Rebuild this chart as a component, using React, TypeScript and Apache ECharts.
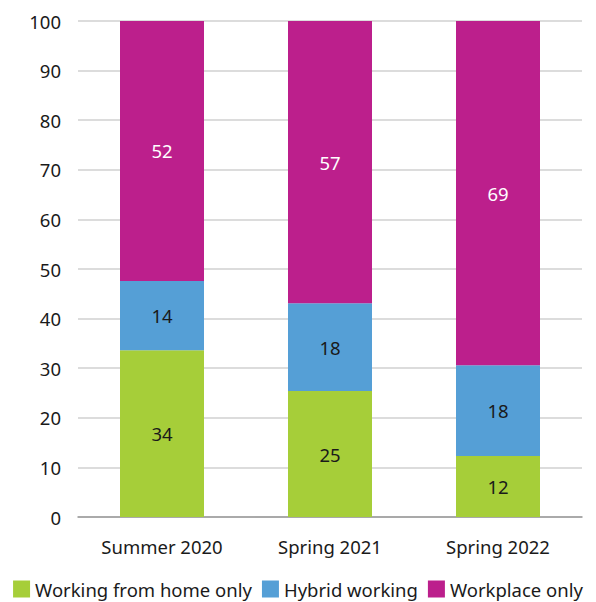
import React, { useEffect, useRef } from "react";
import * as echarts from "echarts";

const categories = ["Summer 2020", "Spring 2021", "Spring 2022"];
const homeOnly = [33.6, 25.4, 12.3];
const hybrid = [14.0, 17.7, 18.3];
const workplace = [52.4, 56.9, 69.4];
const seriesNames = ["Working from home only", "Hybrid working", "Workplace only"];
const colors = ["#a6ce39", "#559fd6", "#bc1f8c"];

const FONT = "'Source Sans Pro', 'Noto Sans', 'Open Sans', sans-serif";

export default function App() {
  const ref = useRef<HTMLDivElement>(null);
  useEffect(() => {
    if (!ref.current) return;
    const chart = echarts.init(ref.current, null, { renderer: "svg" });
    const data = [homeOnly, hybrid, workplace];
    chart.setOption({
      animation: false,
      textStyle: { fontFamily: FONT },
      grid: { left: 70, right: 6, top: 13, bottom: 85, containLabel: false },
      legend: {
        top: 571,
        left: "center",
        padding: 0,
        itemWidth: 17,
        itemHeight: 17,
        itemGap: 10,
        icon: "rect",
        textStyle: { fontSize: 18.5, lineHeight: 20, color: "#1a1a1a", fontFamily: FONT },
        data: seriesNames,
      },
      xAxis: {
        type: "category",
        data: categories,
        axisTick: { show: false },
        axisLine: { lineStyle: { color: "#999", width: 1.5 } },
        axisLabel: { fontSize: 18.5, color: "#1a1a1a", margin: 20 },
      },
      yAxis: {
        type: "value",
        min: 0,
        max: 100,
        interval: 10,
        axisLabel: { fontSize: 18.5, color: "#1a1a1a", margin: 17 },
        splitLine: { lineStyle: { color: "#d0d0d0", width: 1.5 } },
      },
      series: seriesNames.map((name, i) => ({
        name,
        type: "bar",
        stack: "total",
        barWidth: "50%",
        data: data[i],
        itemStyle: { color: colors[i] },
        label: {
          show: true,
          position: "inside",
          fontSize: 18.5,
          color: i === 2 ? "#ffffff" : "#1a1a1a",
          formatter: (p: any) => String(Math.round(p.value)),
        },
      })),
    });
    return () => chart.dispose();
  }, []);
  return <div ref={ref} style={{ width: 580, height: 594 }} />;
}
